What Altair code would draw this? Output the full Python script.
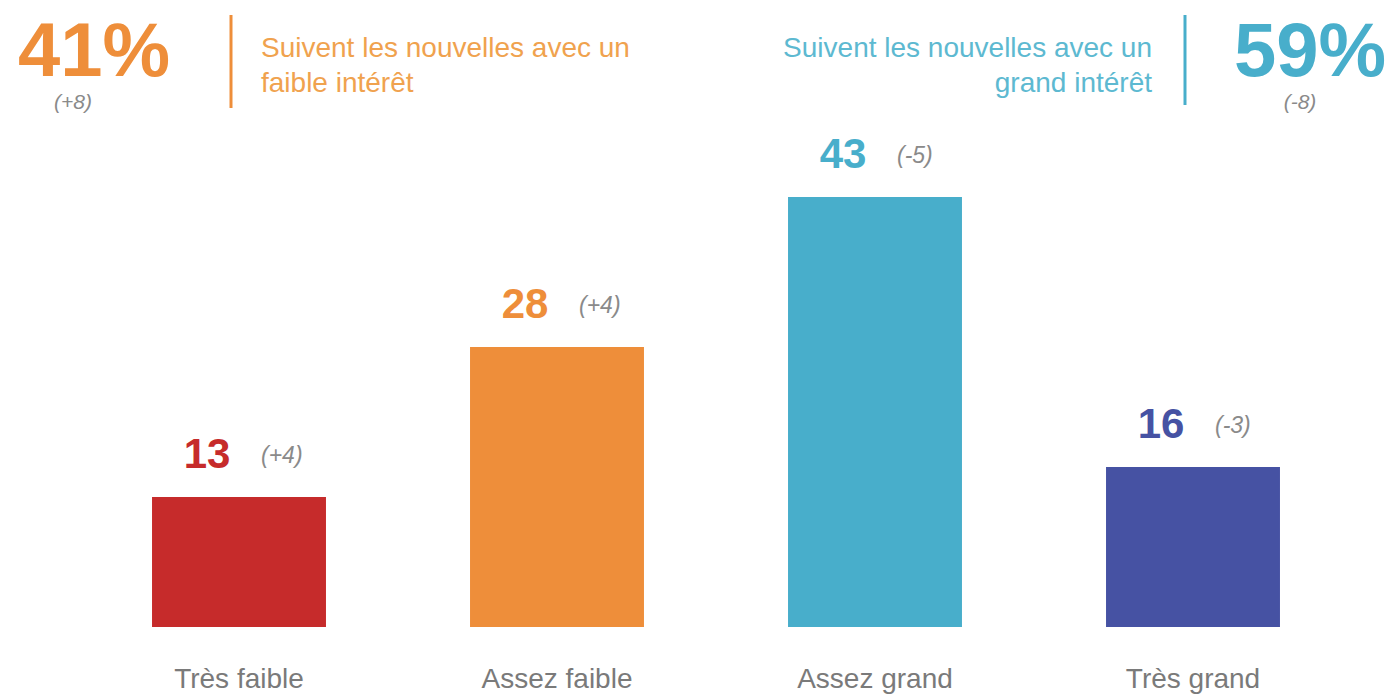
import altair as alt
import pandas as pd

# ---- data ----
categories = ["Très faible", "Assez faible", "Assez grand", "Très grand"]
values = [13, 28, 43, 16]
changes = ["(+4)", "(+4)", "(-5)", "(-3)"]
bar_colors = ["#C62B2B", "#EE8E3A", "#48AECB", "#4652A3"]

group_pct = ["41%", "59%"]
group_change = ["(+8)", "(-8)"]
group_line1 = ["Suivent les nouvelles avec un", "Suivent les nouvelles avec un"]
group_line2 = ["faible intérêt", "grand intérêt"]
group_colors = ["#EE8E3A", "#48AECB"]
group_text_colors = ["#F0A24E", "#5DB9D1"]

FONT = "Liberation Sans"
W, H = 1381, 688
GRAY = "#8a8a8a"

df = pd.DataFrame({"cat": categories, "value": values, "change": changes, "color": bar_colors})

x = alt.X("cat:N", sort=categories,
          scale=alt.Scale(domain=categories, range=[72, 1344], paddingInner=0.453, paddingOuter=0.2265),
          axis=None)
y = alt.Y("value:Q", scale=alt.Scale(domain=[0, 60], range=[619, 19]), axis=None)

base = alt.Chart(df)
bars = base.mark_bar().encode(x=x, y=y, color=alt.Color("color:N", scale=None))
vals = base.mark_text(font=FONT, fontSize=42, fontWeight="bold", align="center",
                      baseline="middle", dx=-32, dy=-42).encode(
    x=x, y=y, text="value:Q", color=alt.Color("color:N", scale=None))
chg = base.mark_text(font=FONT, fontSize=23, fontStyle="italic", color=GRAY, align="left",
                     baseline="middle", dx=22, dy=-41).encode(x=x, y=y, text="change:N")
cats = base.mark_text(font=FONT, fontSize=28, color="#7a7a7a", align="center",
                      baseline="middle", dy=53).encode(x=x, y=alt.datum(0), text="cat:N")


def txt(s, xp, yp, **kw):
    return alt.Chart(pd.DataFrame({"t": [s]})).mark_text(font=FONT, baseline="middle", **kw).encode(
        x=alt.value(xp), y=alt.value(yp), text="t:N")


def rule(xp, y1, y2, color):
    return alt.Chart(pd.DataFrame({"a": [0]})).mark_rule(color=color, strokeWidth=3).encode(
        x=alt.value(xp), y=alt.value(y1), y2=alt.value(y2))


header = [
    txt(group_pct[0], 86, 45, fontSize=76, fontWeight="bold", color=group_colors[0], align="center"),
    txt(group_change[0], 65, 95, fontSize=21, fontStyle="italic", color=GRAY, align="center"),
    rule(223, 7, 100, group_colors[0]),
    txt(group_line1[0], 253, 41, fontSize=28, color=group_text_colors[0], align="left"),
    txt(group_line2[0], 253, 76, fontSize=28, color=group_text_colors[0], align="left"),
    txt(group_line1[1], 1144, 41, fontSize=28, color=group_text_colors[1], align="right"),
    txt(group_line2[1], 1144, 76, fontSize=28, color=group_text_colors[1], align="right"),
    rule(1177, 7, 97, group_colors[1]),
    txt(group_pct[1], 1302, 45, fontSize=76, fontWeight="bold", color=group_colors[1], align="center"),
    txt(group_change[1], 1292, 95, fontSize=21, fontStyle="italic", color=GRAY, align="center"),
]

chart = alt.layer(bars, vals, chg, cats, *header).properties(
    width=W, height=H, padding=0, autosize=alt.AutoSizeParams(type="none"),
    background="white"
).configure_view(stroke=None)

chart.save("out.html", embed_options={"renderer": "svg", "actions": False})
